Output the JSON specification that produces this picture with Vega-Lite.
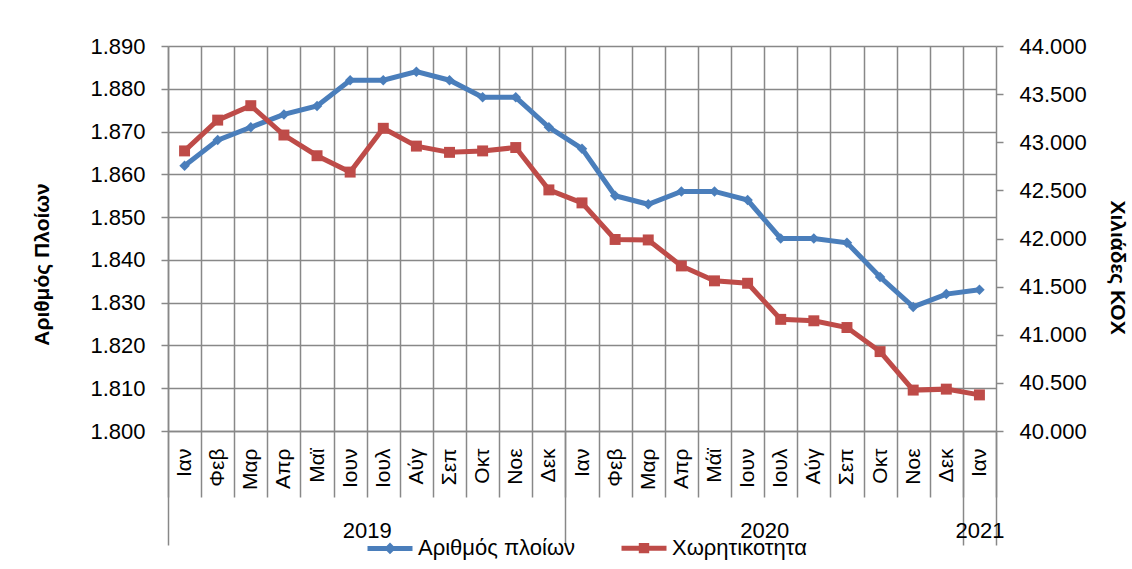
{
  "$schema": "https://vega.github.io/schema/vega-lite/v6.json",
  "autosize": {"type": "none"},
  "padding": {"left": 168, "top": 46, "right": 136, "bottom": 138},
  "width": 828,
  "height": 385,
  "background": "white",
  "config": {
    "font": "Liberation Sans",
    "view": {"stroke": null},
    "locale": {"number": {"decimal": ",", "thousands": ".", "grouping": [3], "currency": ["", " €"]}},
    "axis": {"labelColor": "#000", "titleColor": "#000", "domainColor": "#888", "tickColor": "#888", "gridColor": "#888"}
  },
  "data": {"values": [
    {"period": "Ιαν 2019", "ships": 1862, "tonnage": 42910},
    {"period": "Φεβ 2019", "ships": 1868, "tonnage": 43230},
    {"period": "Μαρ 2019", "ships": 1871, "tonnage": 43380},
    {"period": "Απρ 2019", "ships": 1874, "tonnage": 43075},
    {"period": "Μαϊ 2019", "ships": 1876, "tonnage": 42860},
    {"period": "Ιουν 2019", "ships": 1882, "tonnage": 42690},
    {"period": "Ιουλ 2019", "ships": 1882, "tonnage": 43145},
    {"period": "Αύγ 2019", "ships": 1884, "tonnage": 42960},
    {"period": "Σεπ 2019", "ships": 1882, "tonnage": 42895},
    {"period": "Οκτ 2019", "ships": 1878, "tonnage": 42910},
    {"period": "Νοε 2019", "ships": 1878, "tonnage": 42945},
    {"period": "Δεκ 2019", "ships": 1871, "tonnage": 42505},
    {"period": "Ιαν 2020", "ships": 1866, "tonnage": 42370},
    {"period": "Φεβ 2020", "ships": 1855, "tonnage": 41990},
    {"period": "Μαρ 2020", "ships": 1853, "tonnage": 41985},
    {"period": "Απρ 2020", "ships": 1856, "tonnage": 41715},
    {"period": "Μάϊ 2020", "ships": 1856, "tonnage": 41560},
    {"period": "Ιουν 2020", "ships": 1854, "tonnage": 41535},
    {"period": "Ιουλ 2020", "ships": 1845, "tonnage": 41160},
    {"period": "Αύγ 2020", "ships": 1845, "tonnage": 41145},
    {"period": "Σεπ 2020", "ships": 1844, "tonnage": 41075},
    {"period": "Οκτ 2020", "ships": 1836, "tonnage": 40825},
    {"period": "Νοε 2020", "ships": 1829, "tonnage": 40425},
    {"period": "Δεκ 2020", "ships": 1832, "tonnage": 40435},
    {"period": "Ιαν 2021", "ships": 1833, "tonnage": 40375}
  ]},
  "layer": [
    {
      "mark": {"type": "line", "strokeWidth": 5, "point": {"shape": "diamond", "size": 110, "filled": true, "opacity": 1}},
      "encoding": {
        "x": {"field": "period", "type": "ordinal", "sort": null,
          "scale": {"type": "band", "paddingInner": 0, "paddingOuter": 0},
          "axis": {"orient": "bottom", "title": null, "tickBand": "extent", "grid": true, "gridWidth": 1.5, "gridColor": "#888",
            "tickSize": 66, "tickWidth": 1.5, "domain": true, "domainWidth": 1.5,
            "labelExpr": "isValid(datum.value) ? split(datum.value, ' ')[0] : ''", "labelAngle": -90, "labelAlign": "right", "labelBaseline": "middle",
            "labelPadding": -49, "labelFontSize": 21, "labelOverlap": false, "labelBound": false, "labelFlush": false}},
        "y": {"field": "ships", "type": "quantitative",
          "scale": {"domain": [1800, 1890], "nice": false, "zero": false},
          "axis": {"orient": "left", "title": "Αριθμός Πλοίων", "values": [1800, 1810, 1820, 1830, 1840, 1850, 1860, 1870, 1880, 1890],
            "format": ",d", "grid": true, "gridWidth": 1.5, "tickSize": 7, "tickWidth": 1.5, "domain": true, "domainWidth": 1.5,
            "labelFontSize": 22, "labelPadding": 16,
            "titleFontSize": 21, "titleFontWeight": "bold", "titleAngle": -90, "titleBaseline": "bottom", "titleAlign": "center",
            "titleX": -116, "titleY": 218}},
        "color": {"datum": "Αριθμός πλοίων", "type": "nominal",
          "scale": {"domain": ["Αριθμός πλοίων", "Χωρητικοτητα"], "range": ["#4a7ebb", "#be4b48"]},
          "legend": {"orient": "none", "legendX": 197, "legendY": 477, "direction": "horizontal", "title": null,
            "symbolType": "stroke", "symbolStrokeWidth": 5, "symbolSize": 2025, "labelFontSize": 22, "labelOffset": 3,
            "columnPadding": 35, "labelColor": "#000",
            "encode": {"symbols": {"update": {"shape": {"signal": "datum.value == 'Χωρητικοτητα' ? 'M-1,0H1M-0.12,-0.12H0.12V0.12H-0.12Z' : 'M-1,0H1M0,-0.1L0.1,0L0,0.1L-0.1,0Z'"}}}}}}
      }
    },
    {
      "mark": {"type": "line", "strokeWidth": 5, "point": {"shape": "square", "size": 120, "filled": true, "opacity": 1}},
      "encoding": {
        "x": {"field": "period", "type": "ordinal", "sort": null, "axis": null},
        "y": {"field": "tonnage", "type": "quantitative",
          "scale": {"domain": [40000, 44000], "nice": false, "zero": false},
          "axis": {"orient": "right", "title": "Χιλιάδες ΚΟΧ", "values": [40000, 40500, 41000, 41500, 42000, 42500, 43000, 43500, 44000],
            "format": ",d", "grid": false, "tickSize": 7, "tickWidth": 1.5, "domain": false,
            "labelFontSize": 22, "labelPadding": 16,
            "titleFontSize": 21, "titleFontWeight": "bold", "titleAngle": 90, "titleBaseline": "bottom", "titleAlign": "center",
            "titleX": 110, "titleY": 221}},
        "color": {"datum": "Χωρητικοτητα", "type": "nominal"}
      }
    },
    {
      "mark": {"type": "point", "opacity": 0},
      "encoding": {
        "x": {"field": "period", "type": "ordinal", "sort": null,
          "axis": {"orient": "bottom", "title": null, "tickBand": "extent", "grid": false, "domain": false,
            "tickSize": 114, "tickWidth": 1.5, "tickColor": "#888",
            "tickOpacity": {"condition": {"test": "!isValid(datum.value) || datum.value == 'Δεκ 2019' || datum.value == 'Δεκ 2020' || datum.value == 'Ιαν 2021'", "value": 1}, "value": 0},
            "labelExpr": "datum.value == 'Ιουν 2019' ? '2019' : datum.value == 'Ιουν 2020' ? '2020' : datum.value == 'Ιαν 2021' ? '2021' : ''",
            "labelOffset": {"condition": {"test": "datum.value == 'Ιαν 2021'", "value": 0}, "value": 16.56},
            "labelAngle": 0, "labelAlign": "center", "labelBaseline": "top", "labelPadding": -25, "labelFontSize": 22,
            "labelOverlap": false, "labelBound": false, "labelFlush": false}}
      }
    }
  ],
  "resolve": {"scale": {"y": "independent"}, "axis": {"x": "independent"}}
}
